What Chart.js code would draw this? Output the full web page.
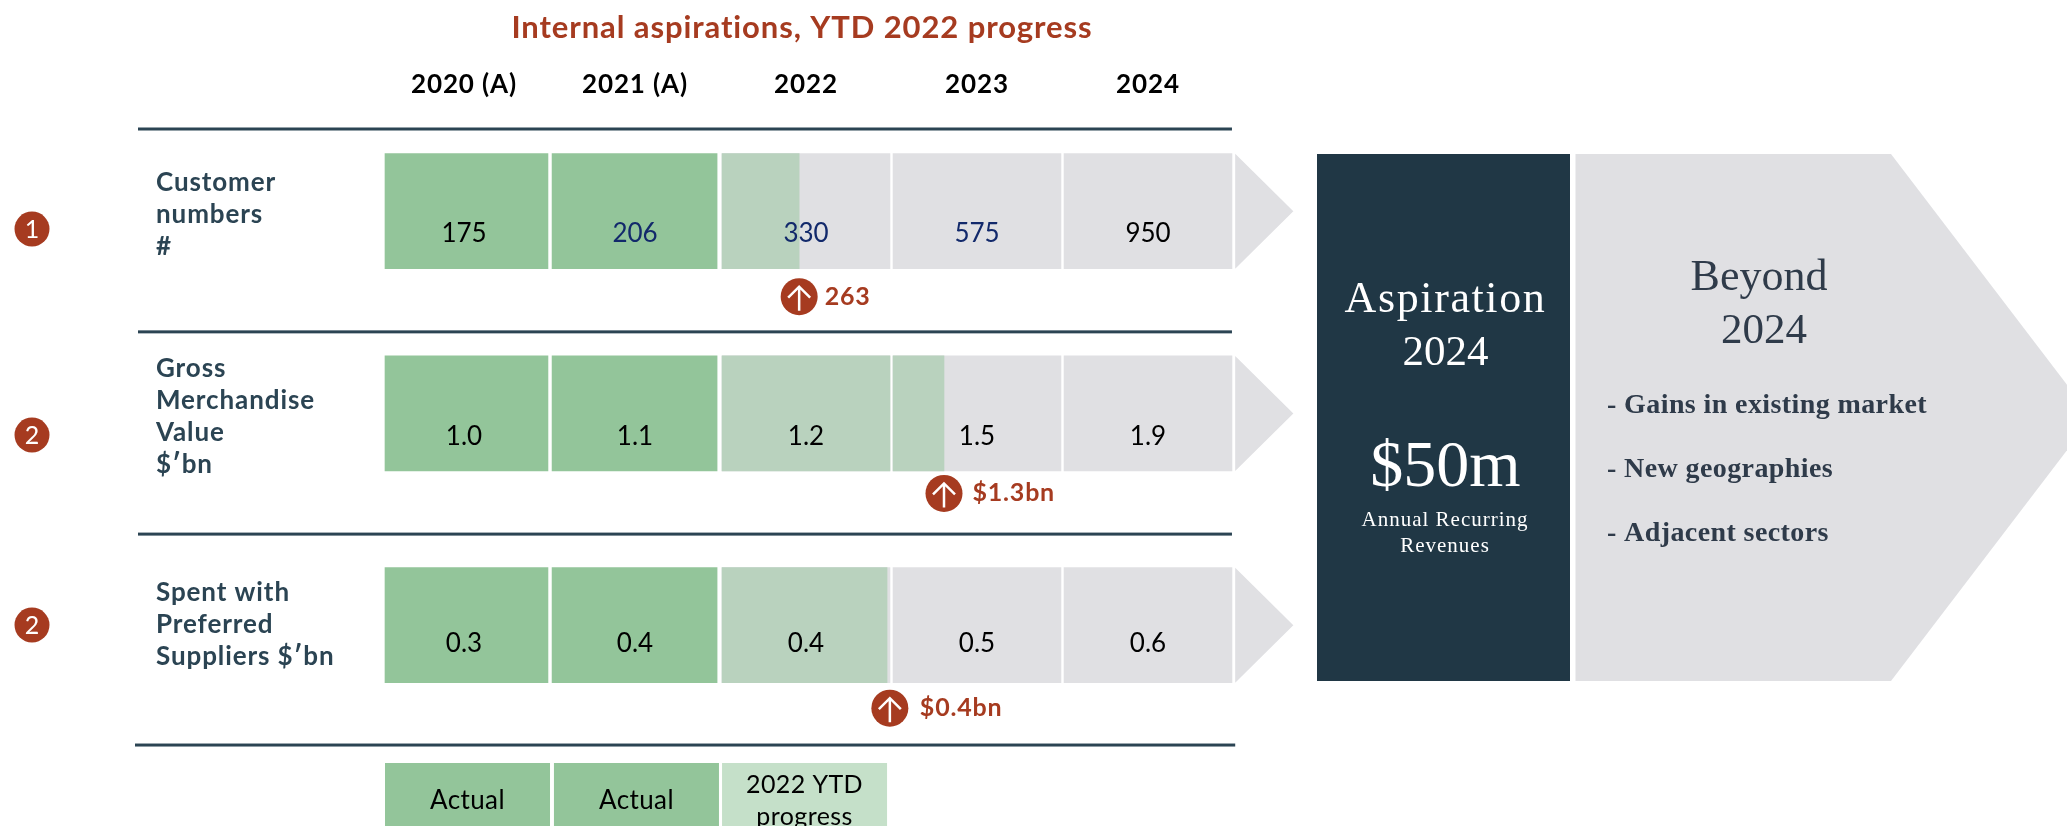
<!DOCTYPE html>
<html>
<head>
<meta charset="utf-8">
<title>Internal aspirations, YTD 2022 progress</title>
<script src="https://cdn.jsdelivr.net/npm/chart.js@4"></script>
<style>html,body{margin:0;padding:0;background:#fff;overflow:hidden}canvas{display:block}</style>
</head>
<body>
<canvas id="c" width="2067" height="826"></canvas>
<script>
const chartTitle = 'Internal aspirations, YTD 2022 progress';
const years = ['2020 (A)', '2021 (A)', '2022', '2023', '2024'];
const metrics = [['Customer', 'numbers', '#'], ['Gross', 'Merchandise', 'Value', '$′bn'], ['Spent with', 'Preferred', 'Suppliers $′bn']];
const metricNumbers = ['1', '2', '2'];
const customerNumbers = ['175', '206', '330', '575', '950'];
const grossMerchandiseValue = ['1.0', '1.1', '1.2', '1.5', '1.9'];
const preferredSupplierSpend = ['0.3', '0.4', '0.4', '0.5', '0.6'];
const ytdProgressLabels = ['263', '$1.3bn', '$0.4bn'];
const ytdProgressOnYearAxis = [2.46, 3.307, 2.974];
const legendLabels = [['Actual'], ['Actual'], ['2022 YTD', 'progress']];
const beyondItems = ['- Gains in existing market', '- New geographies', '- Adjacent sectors'];

const rowValues = [customerNumbers, grossMerchandiseValue, preferredSupplierSpend];
const L = {
  left: 378.5, right: 1233.5, top: 129, labelX: 156,
  rows: [0.397, 1.374, 2.397],
  labelRows: [0.412, 1.390, 2.394],
  separators: [0, 0.98, 1.957, 2.976],
  starts: [0.038, 1.015, 2.009, 3.009, 4.009],
  ends: [0.991, 1.98, 2.991, 3.991, 4.991],
  legendStarts: [0.038, 1.026, 2.009], legendEnds: [1.003, 1.991, 2.974],
  badgeDx: [0, 0, 2.8], badgeDy: [85.5, 80, 83], badgeGap: [25.5, 28.5, 30], valueDy: [30.5, 31.5, 26.5]
};
const C = { actual: '#93C59A', progress: '#B9D2BE', legend: '#C5E0C9', grey: '#E0E0E3', navy: '#203745', line: '#2B4453', rust: '#A63B20', slate: '#2F3B4A' };
const SANS = 'Lato, sans-serif', SERIF = '"Liberation Serif", serif';

function cells(from, to) {
  const out = [];
  rowValues.forEach((_, r) => { for (let j = from; j <= to; j++) out.push({ y: L.rows[r], x: [L.starts[j], L.ends[j]] }); });
  return out;
}
function progressCells() {
  const out = [];
  ytdProgressOnYearAxis.forEach((p, r) => {
    for (let j = 2; j < 5 && L.starts[j] < p; j++) out.push({ y: L.rows[r], x: [L.starts[j], Math.min(L.ends[j], p)] });
  });
  return out;
}
function txt(ctx, s, x, y, font, color, align, spacing) {
  ctx.save();
  ctx.font = font; ctx.fillStyle = color; ctx.textAlign = align || 'center'; ctx.textBaseline = 'alphabetic';
  ctx.letterSpacing = spacing || '0px';
  ctx.fillText(s, x, y);
  ctx.restore();
}
function noPadding(s) { s.paddingTop = s.paddingBottom = s.paddingLeft = s.paddingRight = 0; }
const decorations = {
  id: 'decorations',
  afterLayout(chart) { const t = chart.titleBlock; if (t) { t.left -= 4; t.right -= 4; } },
  beforeDraw(chart) { chart.ctx.letterSpacing = '0.9px'; },
  beforeDatasetsDraw(chart) {
    const { ctx, scales: { x, y } } = chart;
    // separators
    L.separators.forEach((s, i) => {
      ctx.fillStyle = C.line;
      const last = i === 3;
      ctx.fillRect(last ? 135 : 138, y.getPixelForValue(s) - 1.5, (last ? x.getPixelForValue(5.01) : x.getPixelForValue(4.991)) - (last ? 135 : 138), 3);
    });
    // chevrons after each row
    L.rows.forEach(r => {
      const cy = y.getPixelForValue(r);
      ctx.fillStyle = C.grey; ctx.beginPath();
      ctx.moveTo(x.getPixelForValue(5.01), cy - 57.5);
      ctx.lineTo(x.getPixelForValue(5.35), cy);
      ctx.lineTo(x.getPixelForValue(5.01), cy + 57.5);
      ctx.closePath(); ctx.fill();
    });
    // right panels
    ctx.fillStyle = C.navy; ctx.fillRect(1317, 154, 253, 527);
    ctx.fillStyle = C.grey; ctx.beginPath();
    ctx.moveTo(1575.5, 154); ctx.lineTo(1891, 154); ctx.lineTo(2092, 417.5); ctx.lineTo(1891, 681); ctx.lineTo(1575.5, 681); ctx.closePath(); ctx.fill();
  },
  afterDraw(chart) {
    const { ctx, scales: { x, y } } = chart;
    // cell values
    rowValues.forEach((vals, r) => {
      const cy = y.getPixelForValue(L.rows[r]);
      vals.forEach((v, j) => {
        const navy = r === 0 && j >= 1 && j <= 3;
        txt(ctx, v, x.getPixelForValue(j + 0.5), cy + L.valueDy[r], '400 26px ' + SANS, navy ? '#12296B' : '#000');
      });
      // row number
      const ny = [229, 435, 625][r];
      ctx.fillStyle = C.rust; ctx.beginPath(); ctx.arc(32, ny, 17.5, 0, Math.PI * 2); ctx.fill();
      txt(ctx, metricNumbers[r], 32, ny + 9, '400 25px ' + SANS, '#fff');
      // progress badge
      const bx = x.getPixelForValue(ytdProgressOnYearAxis[r]) + L.badgeDx[r], by = cy + L.badgeDy[r];
      ctx.fillStyle = C.rust; ctx.beginPath(); ctx.arc(bx, by, 18.5, 0, Math.PI * 2); ctx.fill();
      ctx.strokeStyle = '#fff'; ctx.lineWidth = 2.5; ctx.beginPath();
      ctx.moveTo(bx, by + 14); ctx.lineTo(bx, by - 10);
      ctx.moveTo(bx - 11, by + 1); ctx.lineTo(bx, by - 10); ctx.lineTo(bx + 11, by + 1); ctx.stroke();
      txt(ctx, ytdProgressLabels[r], bx + L.badgeGap[r], by + 8, '700 25px ' + SANS, C.rust, 'left', '0.8px');
    });
    // legend
    const fills = [C.actual, C.actual, C.legend];
    legendLabels.forEach((lines, i) => {
      const a = x.getPixelForValue(L.legendStarts[i]), b = x.getPixelForValue(L.legendEnds[i]);
      ctx.fillStyle = fills[i]; ctx.fillRect(a, 763, b - a, 63);
      const mid = (a + b) / 2;
      if (lines.length === 1) txt(ctx, lines[0], mid, 809, '400 26px ' + SANS, '#000', 'center', '0.4px');
      else { txt(ctx, lines[0], mid, 793, '400 25px ' + SANS, '#000', 'center', '0.4px'); txt(ctx, lines[1], mid, 825, '400 25px ' + SANS, '#000', 'center', '0.4px'); }
    });
    // panel text
    const s = '400 ';
    txt(ctx, 'Aspiration', 1445.5, 311.5, s + '44px ' + SERIF, '#fff', 'center', '1.6px');
    txt(ctx, '2024', 1445.5, 365, s + '43px ' + SERIF, '#fff');
    txt(ctx, '$50m', 1445.5, 485.5, s + '66px ' + SERIF, '#fff');
    txt(ctx, 'Annual Recurring', 1445, 525.5, s + '21px ' + SERIF, '#fff', 'center', '1px');
    txt(ctx, 'Revenues', 1445, 551.5, s + '21px ' + SERIF, '#fff', 'center', '1px');
    txt(ctx, 'Beyond', 1759, 290, s + '44px ' + SERIF, C.slate);
    txt(ctx, '2024', 1764, 343, s + '43px ' + SERIF, C.slate);
    beyondItems.forEach((t, i) => txt(ctx, t, 1607, [413, 477, 541][i], '700 28px ' + SERIF, C.slate, 'left', '0.4px'));
  }
};
new Chart(document.getElementById('c'), {
  type: 'bar',
  plugins: [decorations],
  data: {
    datasets: [
      { label: 'Aspiration', data: cells(2, 4), backgroundColor: C.grey, grouped: false, barThickness: 115, order: 3 },
      { label: '2022 YTD progress', data: progressCells(), backgroundColor: C.progress, grouped: false, barThickness: 115, order: 2 },
      { label: 'Actual', data: cells(0, 1), backgroundColor: C.actual, grouped: false, barThickness: 115, order: 1 }
    ]
  },
  options: {
    indexAxis: 'y', responsive: false, animation: false, devicePixelRatio: 1,
    layout: { padding: { left: L.labelX, right: 2067 - L.right, top: 0, bottom: 0 } },
    plugins: {
      legend: { display: false }, tooltip: { enabled: false },
      title: { display: true, text: chartTitle, fullSize: false, color: C.rust, font: { family: SANS, size: 31, weight: '700', lineHeight: 1 }, padding: { top: 12, bottom: 2 } }
    },
    scales: {
      x: {
        type: 'linear', position: 'top', min: 0, max: 5,
        grid: { display: false, drawTicks: false }, border: { display: false },
        afterFit(s) { s.height = 84; noPadding(s); },
        afterBuildTicks(s) { s.ticks = years.map((_, i) => ({ value: i + 0.5 })); },
        ticks: { autoSkip: false, maxRotation: 0, padding: 29, color: '#000', font: { family: SANS, size: 26, weight: '700' }, callback: (v, i) => years[i] }
      },
      y: {
        type: 'linear', reverse: true, position: 'left', offset: false, min: 0, max: 697 / 207,
        grid: { display: false, drawTicks: false, offset: false }, border: { display: false },
        afterFit(s) { s.width = L.left - L.labelX; noPadding(s); },
        afterBuildTicks(s) { s.ticks = L.labelRows.map(v => ({ value: v })); },
        ticks: { autoSkip: false, crossAlign: 'far', padding: 0, color: C.line, font: { family: SANS, size: 26, weight: '700', lineHeight: 1.23 }, callback: (v, i) => metrics[i] }
      }
    }
  }
});
</script>
</body>
</html>
